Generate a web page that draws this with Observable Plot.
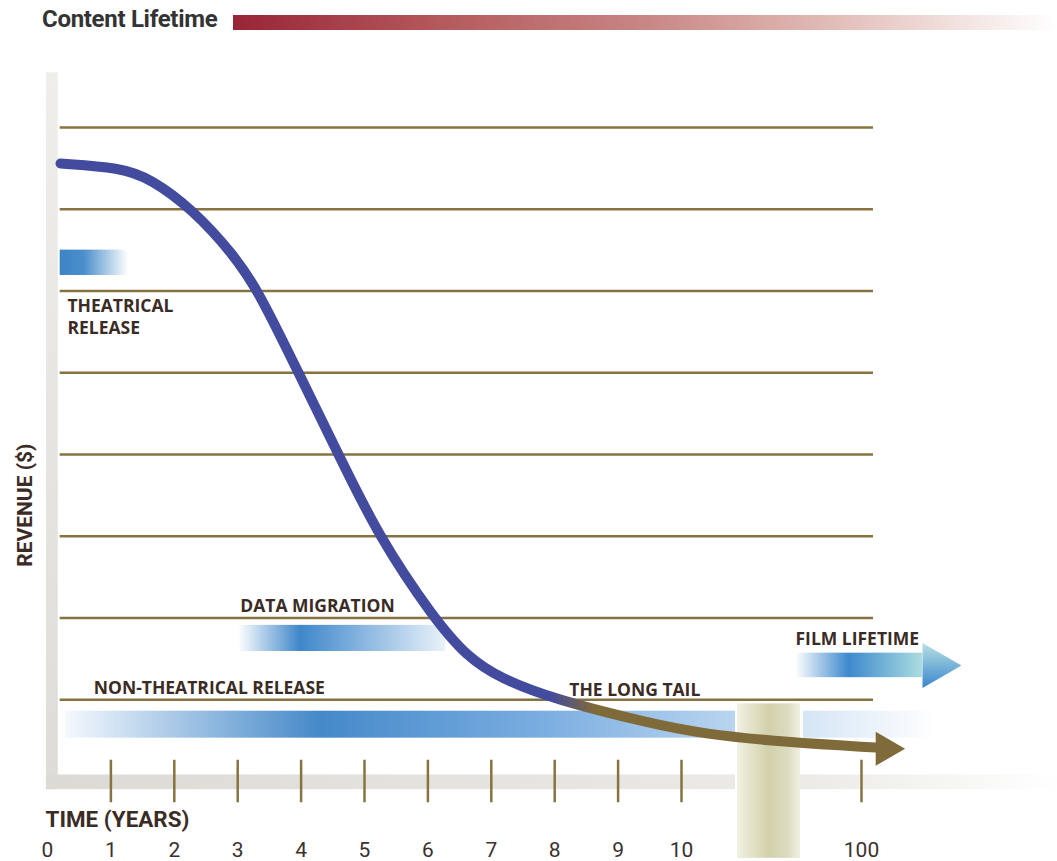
<!DOCTYPE html>
<html><head><meta charset="utf-8">
<script src="https://cdn.jsdelivr.net/npm/d3@7"></script>
<script src="https://cdn.jsdelivr.net/npm/@observablehq/plot@0.6"></script>
<style>
body{margin:0;background:#fff;width:1057px;height:861px;overflow:hidden}
#head{position:relative;height:44px}
#title{position:absolute;left:42px;top:5px;font:bold 24px Roboto,sans-serif;letter-spacing:-0.3px;color:#333}
#bar{position:absolute;left:233px;top:15px;width:824px;height:15px;background:linear-gradient(to right,#982536 0%,#b4595c 25%,#c88684 50%,#e4c2bd 75%,#ffffff 100%)}
#chart svg{display:block}
</style></head><body>
<div id="head"><div id="title">Content Lifetime</div><div id="bar"></div></div>
<div id="chart"></div>
<script>
// ---- data ----
const curveYears   = [0.205, 1.151, 1.625, 2.287, 2.934, 3.328, 3.959, 4.590, 5.221, 6.088, 6.625, 7.145, 8.013, 9.511, 19.5, 63, 107];
const curveRevenue = [7.56, 7.51, 7.376, 7.00, 6.447, 6.00, 5.00, 4.00, 3.00, 2.00, 1.52, 1.26, 1.00, 0.71, 0.587, 0.477, 0.416];
const gridLevels   = [1, 2, 3, 4, 5, 6, 7, 8];
const tickYears    = [0, 1, 2, 3, 4, 5, 6, 7, 8, 9, 10, 100];
const tickMarks    = [1, 2, 3, 4, 5, 6, 7, 8, 9, 10, 100];
const phaseNames   = ["theatrical", "migration", "nontheatrical", "nontheatrical2", "film"];
const phaseStart   = [0.2, 3.01, 0.28, 71, 67];
const phaseEnd     = [1.28, 6.28, 37, 137, 130.5];
const phaseTop     = [6.5, 1.91, 0.86, 0.86, 1.57];
const phaseBottom  = [6.19, 1.59, 0.53, 0.53, 1.27];
const labelTexts   = ["THEATRICAL\nRELEASE", "DATA MIGRATION", "NON-THEATRICAL RELEASE", "THE LONG TAIL", "FILM LIFETIME"];
const labelYears   = [0.315, 3.04, 0.73, 8.23, 67];
const labelRevenue = [5.694, 2.165, 1.162, 1.138, 1.76];

const curve = curveYears.map((t, i) => ({t, r: curveRevenue[i]}));
const phases = phaseNames.map((name, i) => ({name, t1: phaseStart[i], t2: phaseEnd[i], r1: phaseBottom[i], r2: phaseTop[i]}));
const labels = labelTexts.map((text, i) => ({text, t: labelYears[i], r: labelRevenue[i]}));

// broken time axis: linear up to 10 years, compressed beyond
const timeWarp = t => t <= 10 ? t : 10 + (t - 10) / 90 * 2.839;

const OLIVE = "#86733f", INK = "#3b2b25";
const labelFont = "Open Sans";
const axisFont = "Roboto";

const chart = Plot.plot({
  width: 1057, height: 817,
  marginTop: 0, marginLeft: 0, marginRight: 0, marginBottom: 32,
  x: {domain: [0, 10], range: [47, 681], transform: timeWarp},
  y: {domain: [0, 8], range: [737, 83], axis: null},
  marks: [
    // axis bars (gray)
    Plot.rect([0], {x1: -0.016, x2: 0.17, y1: -0.1, y2: 8.67, fill: "url(#gAxisV)"}),
    Plot.rect([0], {x1: -0.016, x2: 37, y1: -0.1, y2: 0.08, fill: "url(#gAxisH1)"}),
    Plot.rect([0], {x1: 69.5, x2: 200, y1: -0.1, y2: 0.08, fill: "url(#gAxisH2)"}),
    // grid lines
    Plot.ruleY(gridLevels, {x1: 0.2, x2: 106, stroke: OLIVE, strokeWidth: 2.5}),
    // tick marks
    Plot.ruleX(tickMarks, {y1: -0.26, y2: 0.26, stroke: OLIVE, strokeWidth: 2.5}),
    // phase bars
    Plot.rect(phases, {x1: "t1", x2: "t2", y1: "r1", y2: "r2", fill: d => `url(#g_${d.name})`}),
    Plot.dot([0], {x: 137, y: 1.42, symbol: "triangle", r: 16.7, rotate: 90, fill: "url(#gFilmHead)", stroke: null}),
    // axis break
    Plot.rect([0], {x1: 38, x2: 69.5, y1: -0.94, y2: 0.95, fill: "url(#gBreak)"}),
    // revenue curve
    Plot.line(curve, {x: "t", y: "r", curve: "basis", stroke: "url(#gCurve)", strokeWidth: 10}),
    Plot.dot([0], {x: 112, y: 0.40, symbol: "triangle", r: 12.6, rotate: 90, fill: "#7f6a3a", stroke: null}),
    // labels
    Plot.text(labels, {x: "t", y: "r", text: "text", textAnchor: "start", lineAnchor: "middle", lineHeight: 1.26,
      fontFamily: labelFont, fontWeight: "bold", fontSize: 17.5, letterSpacing: "-0.2px", fill: INK}),
    Plot.text(["REVENUE ($)"], {x: -0.347, y: 3.38, rotate: -90, fontFamily: axisFont, fontWeight: "bold", fontSize: 21, fill: INK}),
    Plot.text(["TIME (YEARS)"], {x: -0.03, y: -0.471, textAnchor: "start", lineAnchor: "middle", fontFamily: axisFont, fontWeight: "bold", fontSize: 22.4, fill: INK}),
    Plot.axisX(tickYears, {anchor: "bottom", tickSize: 0, tickPadding: 13, label: null, tickFormat: d => String(d),
      fontFamily: axisFont, fontSize: 21, fill: "#3a3030"})
  ]
});

document.getElementById("chart").append(chart);

// gradients used by the marks
const defs = d3.select(chart).insert("defs", ":first-child");
function grad(id, stops, vertical) {
  const g = defs.append("linearGradient").attr("id", id)
    .attr("x1", 0).attr("y1", 0).attr("x2", vertical ? 0 : 1).attr("y2", vertical ? 1 : 0);
  stops.forEach(([o, c]) => g.append("stop").attr("offset", o).attr("stop-color", c));
}
grad("gAxisV", [[0, "#efeeeb"], [1, "#dedcd7"]], true);
grad("gAxisH1", [[0, "#dcdad5"], [1, "#ebe9e5"]]);
grad("gAxisH2", [[0, "#ebeae7"], [1, "#ffffff"]]);
grad("g_theatrical", [[0, "#3d84c6"], [0.35, "#4a8ecb"], [1, "#ffffff"]]);
grad("g_migration", [[0, "#ffffff"], [0.3, "#3f87ca"], [0.65, "#94bde3"], [1, "#eaf2fa"]]);
grad("g_nontheatrical", [[0, "#f5f9fd"], [0.38, "#4589c9"], [0.7, "#78ace0"], [1, "#b9d5ef"]]);
grad("g_nontheatrical2", [[0, "#d4e5f5"], [1, "#ffffff"]]);
grad("g_film", [[0, "#ffffff"], [0.42, "#3e89cd"], [1, "#abdde0"]]);
grad("gFilmHead", [[0, "#b8e2e4"], [1, "#3a86cc"]]);
grad("gBreak", [[0, "#f1f1e2"], [0.5, "#d2d1ab"], [0.8, "#dcdbbf"], [1, "#f1f1e2"]]);
grad("gCurve", [[0, "#434b9e"], [0.6, "#434b9e"], [0.655, "#7f6a3a"], [1, "#7f6a3a"]]);
</script></body></html>
